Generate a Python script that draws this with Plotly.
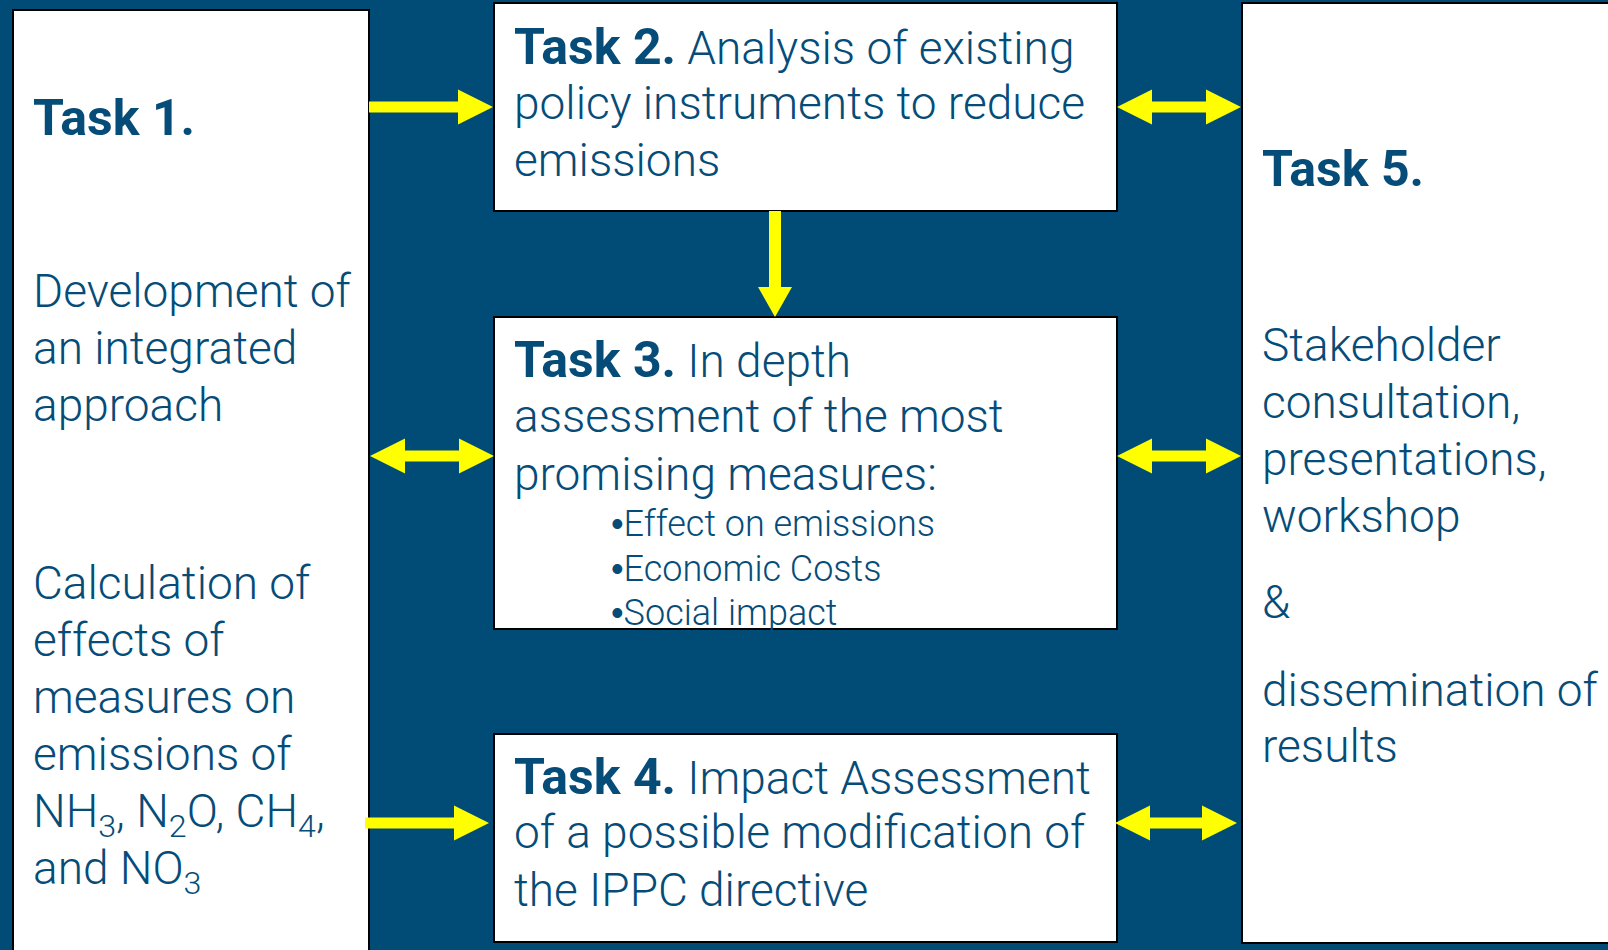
import plotly.graph_objects as go

# ---------------- text content ----------------
def bold(t):
    return f"<span style='font-weight:bold;font-size:50px'>{t}</span>"

task1_title = [bold("Task 1.")]
task1_block_a = ["Development of", "an integrated", "approach"]
task1_block_b = ["Calculation of", "effects of", "measures on", "emissions of",
                 "NH<sub>3</sub>, N<sub>2</sub>O, CH<sub>4</sub>,", "and NO<sub>3</sub>"]
task2_lines = [bold("Task 2.") + " Analysis of existing", "policy instruments to reduce", "emissions"]
task3_lines = [bold("Task 3.") + " In depth", "assessment of the most", "promising measures:"]
task3_bullets = ["Effect on emissions", "Economic Costs", "Social impact"]
task4_lines = [bold("Task 4.") + " Impact Assessment", "of a possible modification of", "the IPPC directive"]
task5_title = [bold("Task 5.")]
task5_block_a = ["Stakeholder", "consultation,", "presentations,", "workshop"]
task5_amp = ["&"]
task5_block_b = ["dissemination of", "results"]

# ---------------- styling ----------------
W, H = 1608, 950
BG = "rgb(0,76,118)"
TXT = "rgb(6,76,120)"
YEL = "rgb(255,255,0)"
FONT = "Roboto"
FS = 46
FS_B = 36
WT = 300
ASC = 0.93  # ascent ratio used to place text tops from baselines
BULLET = "<span style='font-family:Liberation Sans'>•</span>"

fig = go.Figure()

shapes = []
def box(x0, y0, x1, y1):
    shapes.append(dict(type="rect", xref="x", yref="y", x0=x0, y0=y0, x1=x1, y1=y1,
                       fillcolor="white", line=dict(color="black", width=2), layer="below"))

box(13, 10, 369, 980)      # task 1
box(494, 3, 1117, 211)     # task 2
box(494, 317, 1117, 629)   # task 3
box(494, 734, 1117, 942)   # task 4
box(1242, 3, 1640, 943)    # task 5

SH = 5.5   # shaft half thickness
HL = 35    # head length
HH = 17.5  # head half height

def poly(pts):
    d = "M " + " L ".join(f"{x},{y}" for x, y in pts) + " Z"
    shapes.append(dict(type="path", xref="x", yref="y", path=d,
                       fillcolor=YEL, line=dict(width=0), layer="above"))

def arrow_right(x0, x1, y):
    poly([(x0, y - SH), (x1 - HL, y - SH), (x1 - HL, y - HH), (x1, y),
          (x1 - HL, y + HH), (x1 - HL, y + SH), (x0, y + SH)])

def arrow_double(x0, x1, y):
    poly([(x0, y), (x0 + HL, y - HH), (x0 + HL, y - SH), (x1 - HL, y - SH),
          (x1 - HL, y - HH), (x1, y), (x1 - HL, y + HH), (x1 - HL, y + SH),
          (x0 + HL, y + SH), (x0 + HL, y + HH)])

def arrow_down(x, y0, y1):
    s, hl, hh = 6, 30, 17
    poly([(x - s, y0), (x + s, y0), (x + s, y1 - hl), (x + hh, y1 - hl), (x, y1),
          (x - hh, y1 - hl), (x - s, y1 - hl)])

arrow_right(369, 493, 107)
arrow_double(1117, 1241, 107)
arrow_down(775, 211, 317)
arrow_double(370, 494, 456)
arrow_double(1117, 1241, 456)
arrow_right(365, 489, 823)
arrow_double(1115, 1237, 823)

annotations = []
def lines(texts, x, baselines, fs=FS, prefix="", dy=-2):
    for t, b in zip(texts, baselines):
        annotations.append(dict(x=x, y=b + dy - ASC * fs, xref="x", yref="y", text=prefix + t,
                                showarrow=False, xanchor="left", yanchor="top",
                                borderpad=0,
                                font=dict(family=FONT, size=fs, weight=WT, color=TXT)))

lines(task1_title, 32, [135], dy=-4)
lines(task1_block_a, 32, [308, 365, 422])
lines(task1_block_b, 32, [600, 657, 714, 771, 828, 885])
lines(task2_lines, 513, [62, 119.5, 177])
lines(task3_lines, 513, [375, 433, 491])
lines(task3_bullets, 610, [537, 582, 626], fs=FS_B, prefix=BULLET)
lines(task4_lines, 513, [792, 849, 907])
lines(task5_title, 1261, [186], dy=-4)
lines(task5_block_a, 1261, [362, 419, 476, 533])
lines(task5_amp, 1261, [619])
lines(task5_block_b, 1261, [707, 763])

fig.update_layout(
    width=W, height=H,
    margin=dict(l=0, r=0, t=0, b=0),
    paper_bgcolor=BG, plot_bgcolor=BG,
    xaxis=dict(range=[0, W], visible=False, fixedrange=True),
    yaxis=dict(range=[H, 0], visible=False, fixedrange=True),
    shapes=shapes, annotations=annotations, showlegend=False,
)
fig.write_html("out.html", post_script="document.body.style.margin='0';",
               config={"displayModeBar": False})
